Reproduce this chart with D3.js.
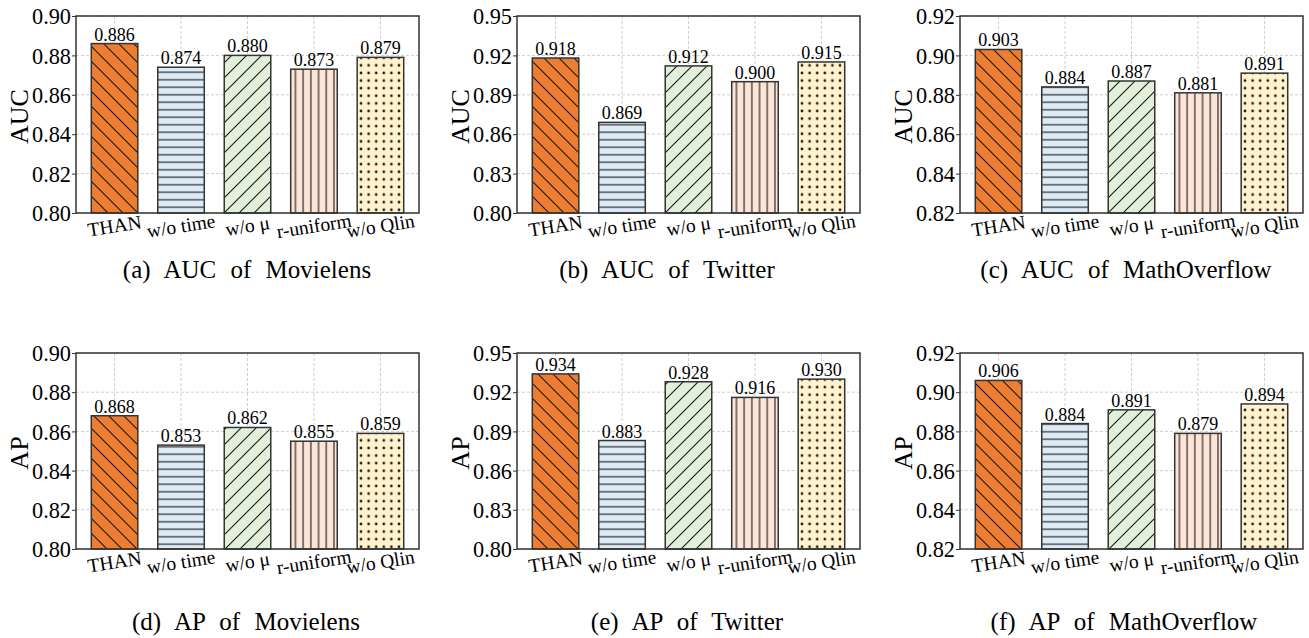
<!DOCTYPE html>
<html>
<head>
<meta charset="utf-8">
<script src="https://cdn.jsdelivr.net/npm/d3@7"></script>
<style>
  body { margin: 0; background: #fff; }
  text { font-family: "Liberation Serif", "Times New Roman", serif; fill: #000; }
</style>
</head>
<body>
<div id="app"></div>
<script>
// Ablation results: one bar per model variant, six panels
const methods = ['THAN', 'w/o time', 'w/o \u03bc', 'r-uniform', 'w/o Qlin'];

const aucMovielens = [0.886, 0.874, 0.880, 0.873, 0.879];
const aucTwitter = [0.918, 0.869, 0.912, 0.900, 0.915];
const aucMath = [0.903, 0.884, 0.887, 0.881, 0.891];
const apMovielens = [0.868, 0.853, 0.862, 0.855, 0.859];
const apTwitter = [0.934, 0.883, 0.928, 0.916, 0.930];
const apMath = [0.906, 0.884, 0.891, 0.879, 0.894];

// y tick values for each dataset
const ticksMovielens = [0.80, 0.82, 0.84, 0.86, 0.88, 0.90];
const ticksTwitter = [0.80, 0.83, 0.86, 0.89, 0.92, 0.95];
const ticksMath = [0.82, 0.84, 0.86, 0.88, 0.90, 0.92];

const captions = [
  '(a) AUC of Movielens', '(b) AUC of Twitter', '(c) AUC of MathOverflow',
  '(d) AP of Movielens', '(e) AP of Twitter', '(f) AP of MathOverflow'
];

const fills = ['#ED7D31', '#DDEBF7', '#E2EFDA', '#FCE4D6', '#FFF2CC'];
const hatches = ['back', 'horiz', 'fwd', 'vert', 'dots'];

const panels = [
  { metric: 'AUC', values: aucMovielens, ticks: ticksMovielens },
  { metric: 'AUC', values: aucTwitter, ticks: ticksTwitter },
  { metric: 'AUC', values: aucMath, ticks: ticksMath },
  { metric: 'AP', values: apMovielens, ticks: ticksMovielens },
  { metric: 'AP', values: apTwitter, ticks: ticksTwitter },
  { metric: 'AP', values: apMath, ticks: ticksMath }
];

// layout of the 2x3 grid
const W = 1309, H = 638;
const plotW = 343;
const lefts = [76, 517, 960];
const rows = [{ top: 16, bottom: 213, capY: 278 }, { top: 353, bottom: 549, capY: 630 }];
const capX = [[247, 667, 1126], [246, 687, 1124]];

const svg = d3.select('#app').append('svg')
  .attr('width', W)
  .attr('height', H);

// hatch patterns, aligned to page like matplotlib hatches
const defs = svg.append('defs');
const ink = '#1a1a1a';

function pattern(id, w, h, fill) {
  const p = defs.append('pattern')
    .attr('id', id)
    .attr('patternUnits', 'userSpaceOnUse')
    .attr('width', w).attr('height', h);
  p.append('rect').attr('width', w).attr('height', h).attr('fill', fill);
  return p;
}

fills.forEach((c, i) => {
  const kind = hatches[i];
  if (kind === 'back') {
    pattern('h' + i, 15, 15, c).append('path')
      .attr('d', 'M-1,-1L16,16M-1,14L1,16M14,-1L16,1')
      .attr('stroke', ink).attr('stroke-width', 1.1);
  } else if (kind === 'fwd') {
    pattern('h' + i, 15, 15, c).append('path')
      .attr('d', 'M-1,16L16,-1M-1,1L1,-1M14,16L16,14')
      .attr('stroke', ink).attr('stroke-width', 1.1);
  } else if (kind === 'horiz') {
    pattern('h' + i, 10, 7.5, c).append('path')
      .attr('d', 'M0,3.75H10')
      .attr('stroke', ink).attr('stroke-width', 1.1);
  } else if (kind === 'vert') {
    pattern('h' + i, 7.7, 10, c).append('path')
      .attr('d', 'M3.85,0V10')
      .attr('stroke', ink).attr('stroke-width', 1.1);
  } else {
    pattern('h' + i, 7.6, 7.6, c).append('circle')
      .attr('cx', 3.8).attr('cy', 3.8).attr('r', 1.35)
      .attr('fill', ink);
  }
});

panels.forEach((p, k) => {
  const row = rows[Math.floor(k / 3)];
  const col = k % 3;
  const left = lefts[col];
  const h = row.bottom - row.top;

  const g = svg.append('g')
    .attr('transform', `translate(${left},${row.top})`);

  const x = d3.scaleBand()
    .domain(methods)
    .range([0, plotW])
    .paddingInner(0.3)
    .paddingOuter(0.23);

  const y = d3.scaleLinear()
    .domain([p.ticks[0], p.ticks[p.ticks.length - 1]])
    .range([h, 0]);

  // dashed grid behind bars
  g.append('g').selectAll('line.hg')
    .data(p.ticks)
    .join('line')
    .attr('x1', 0).attr('x2', plotW)
    .attr('y1', d => y(d)).attr('y2', d => y(d))
    .attr('stroke', '#cfcfcf').attr('stroke-dasharray', '3,2');

  g.append('g').selectAll('line.vg')
    .data(methods)
    .join('line')
    .attr('x1', d => x(d) + x.bandwidth() / 2)
    .attr('x2', d => x(d) + x.bandwidth() / 2)
    .attr('y1', 0).attr('y2', h)
    .attr('stroke', '#cfcfcf').attr('stroke-dasharray', '3,2');

  // bars
  g.selectAll('rect.bar')
    .data(p.values)
    .join('rect')
    .attr('class', 'bar')
    .attr('x', (d, i) => x(methods[i]))
    .attr('y', d => y(d))
    .attr('width', x.bandwidth())
    .attr('height', d => h - y(d))
    .attr('fill', (d, i) => `url(#h${i})`)
    .attr('stroke', '#333')
    .attr('stroke-width', 1.5);

  // value labels
  g.selectAll('text.val')
    .data(p.values)
    .join('text')
    .attr('x', (d, i) => x(methods[i]) + x.bandwidth() / 2)
    .attr('y', d => y(d) - 3)
    .attr('text-anchor', 'middle')
    .style('font-size', '18px')
    .text(d => d.toFixed(3));

  // y axis (labels squeezed a little, like the narrow PDF serif)
  const yAxis = g.append('g')
    .call(d3.axisLeft(y).tickValues(p.ticks).tickFormat(d3.format('.2f'))
      .tickSize(4).tickPadding(1));
  yAxis.select('.domain').remove();
  yAxis.selectAll('line').attr('stroke', '#333');
  yAxis.selectAll('text')
    .style('font-size', '24px')
    .style('font-family', '"Liberation Serif", serif')
    .attr('textLength', 39)
    .attr('lengthAdjust', 'spacingAndGlyphs');

  // frame
  g.append('rect')
    .attr('width', plotW).attr('height', h)
    .attr('fill', 'none')
    .attr('stroke', '#333')
    .attr('stroke-width', 1.5);

  // rotated category labels
  g.selectAll('text.cat')
    .data(methods)
    .join('text')
    .attr('transform', d => `translate(${x(d) + x.bandwidth() / 2},${h + 13}) rotate(-9)`)
    .attr('text-anchor', 'middle')
    .attr('dominant-baseline', 'central')
    .style('font-size', '19.5px')
    .text(d => d);

  // metric label
  g.append('text')
    .attr('transform', `translate(-48,${h / 2 + 2}) rotate(-90)`)
    .attr('text-anchor', 'middle')
    .style('font-size', '26px')
    .text(p.metric);

  // caption
  svg.append('text')
    .attr('x', capX[Math.floor(k / 3)][col])
    .attr('y', row.capY)
    .attr('text-anchor', 'middle')
    .attr('word-spacing', '8px')
    .style('font-size', '25px')
    .text(captions[k]);
});
</script>
</body>
</html>
